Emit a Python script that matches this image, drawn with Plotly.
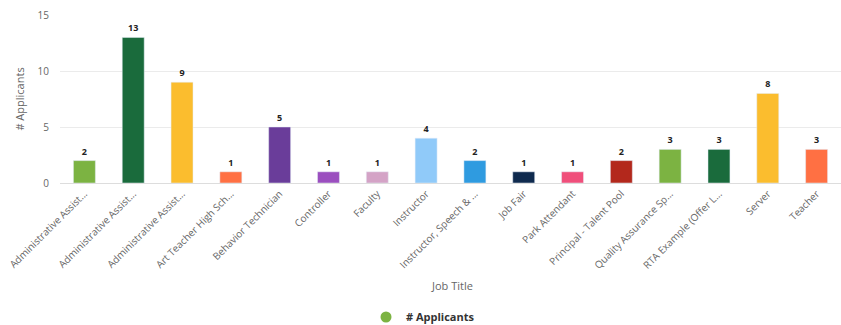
import plotly.graph_objects as go

categories = ["Administrative Assist...", "Administrative Assist...", "Administrative Assist...",
              "Art Teacher High Sch...", "Behavior Technician", "Controller", "Faculty", "Instructor",
              "Instructor, Speech & ...", "Job Fair", "Park Attendant", "Principal - Talent Pool",
              "Quality Assurance Sp...", "RTA Example (Offer L...", "Server", "Teacher"]
applicants = [2, 13, 9, 1, 5, 1, 1, 4, 2, 1, 1, 2, 3, 3, 8, 3]
colors = ["#7cb342", "#1a6b3c", "#fbbd2e", "#ff7043", "#6a3d9a", "#9b4fbf", "#d4a3c6", "#90caf9",
          "#2f9be0", "#0f2a4e", "#f04f7b", "#b3281c", "#7cb342", "#1a6b3c", "#fbbd2e", "#ff7043"]
y_ticks = [0, 5, 10, 15]

x_idx = list(range(len(categories)))

# page body margin is removed (see post_script), so figure pixels = window pixels
W, H = 841, 325
plot_top, plot_bottom = 15, 183
plot_left = 60

def py(pix):
    return (plot_bottom - pix) / (plot_bottom - plot_top)

def px(pix):
    return (pix - plot_left) / (W - plot_left)

fig = go.Figure()
fig.add_trace(go.Bar(
    x=x_idx, y=applicants, marker_color=colors, width=0.45,
    text=[str(v) for v in applicants], textposition="outside", cliponaxis=False,
    textfont=dict(size=9, color="#222", family="Open Sans", weight="bold"),
    showlegend=False, hoverinfo="y"))
fig.add_trace(go.Scatter(
    x=[None], y=[None], mode="markers", name="# Applicants",
    marker=dict(symbol="circle", size=11, color="#7cb342")))

fig.update_layout(
    width=W, height=H,
    margin=dict(l=plot_left, r=0, t=plot_top, b=H - plot_bottom, autoexpand=False),
    paper_bgcolor="white", plot_bgcolor="white",
    font=dict(family="Open Sans", color="#666"),
    showlegend=True,
    legend=dict(orientation="h", x=px(366), xanchor="left", y=py(317), yanchor="middle",
                itemwidth=30,
                font=dict(size=11, color="#333", family="Open Sans", weight="bold")),
    xaxis=dict(tickmode="array", tickvals=x_idx, ticktext=categories, tickangle=-45,
               tickfont=dict(size=10, color="#666"), range=[-0.5, len(categories) - 0.5],
               showgrid=False, showline=True, linecolor="#ddd", ticks="", automargin=False,
               ticklabeloverflow="allow"),
    yaxis=dict(range=[0, 15.001], tickvals=y_ticks, tickfont=dict(size=10, color="#666"),
               showgrid=True, gridcolor="#ebebeb", zeroline=False, ticks="",
               ticklabelstandoff=10, automargin=False, ticklabeloverflow="allow",
               title=dict(text="# Applicants", font=dict(size=11, color="#666"), standoff=10)),
    annotations=[dict(text="Job Title", x=px(452), xref="paper", y=py(285), yref="paper",
                      xanchor="center", yanchor="middle", showarrow=False,
                      font=dict(size=11, color="#666"))],
)

fig.write_html("out.html", config={"displayModeBar": False},
               post_script="document.body.style.margin='0';document.body.style.overflow='hidden';")
